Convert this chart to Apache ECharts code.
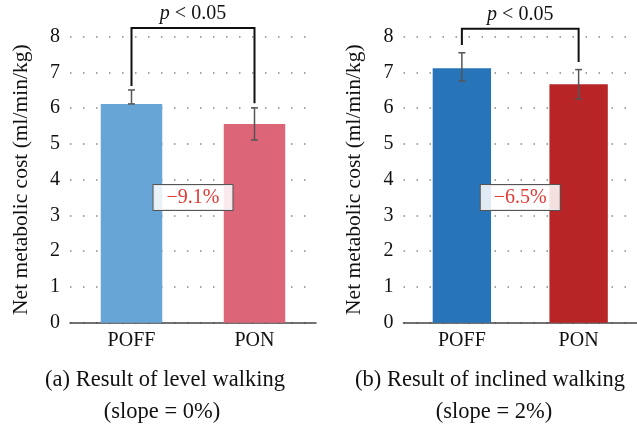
<!DOCTYPE html>
<html><head><meta charset="utf-8">
<script src="https://cdn.jsdelivr.net/npm/echarts@6/dist/echarts.min.js"></script>
<style>html,body{margin:0;padding:0;background:#fff}#c{width:637px;height:426px}</style>
</head><body><div id="c"></div>
<script>
// ---- data ----
const categories = ['POFF', 'PON'];
const yTicks = [0, 1, 2, 3, 4, 5, 6, 7, 8];
const levelValues = [6.12, 5.56];
const levelErrLow = [6.12, 5.11];
const levelErrHigh = [6.51, 6.01];
const inclinedValues = [7.12, 6.67];
const inclinedErrLow = [6.76, 6.26];
const inclinedErrHigh = [7.55, 7.08];
const levelBracket = [8.24, 6.62, 6.14];     // top, left leg end, right leg end
const inclinedBracket = [8.22, 7.77, 7.29];
const levelChange = '\u22129.1%';
const inclinedChange = '\u22126.5%';
const changeLabelY = 3.5;
const captionsA = ['(a) Result of level walking', '(slope = 0%)'];
const captionsB = ['(b) Result of inclined walking', '(slope = 2%)'];
const yTitle = 'Net metabolic cost (ml/min/kg)';

const levelColors = ['#67a5d6', '#dc6577'];
const inclinedColors = ['#2874b8', '#b82527'];
const FONT = '"Liberation Serif", "DejaVu Serif", serif';

const chart = echarts.init(document.getElementById('c'), null, {renderer: 'canvas'});

function xAxisCfg(gi) {
  return {
    type: 'category', gridIndex: gi, data: categories,
    axisTick: {show: false},
    axisLine: {lineStyle: {color: '#444', width: 1.5}},
    axisLabel: {color: '#111', fontFamily: FONT, fontSize: 20, margin: 8}
  };
}
function yAxisCfg(gi) {
  return {
    type: 'value', gridIndex: gi, min: 0, max: 8, interval: 1,
    axisLine: {show: false}, axisTick: {show: false},
    axisLabel: {color: '#111', fontFamily: FONT, fontSize: 20, margin: 10},
    splitLine: {show: true, lineStyle: {color: '#888', width: 1.5, type: [1.5, 11.5]}},
    name: yTitle, nameLocation: 'middle', nameRotate: 90, nameGap: 38,
    nameTextStyle: {color: '#111', fontFamily: FONT, fontSize: 21.5}
  };
}
function barSeries(gi, vals, colors) {
  return {
    type: 'bar', xAxisIndex: gi, yAxisIndex: gi, barWidth: '50%', z: 2,
    data: vals.map((v, i) => ({value: v, itemStyle: {color: colors[i]}})),
    silent: true
  };
}
function errSeries(gi, lo, hi) {
  return {
    type: 'custom', xAxisIndex: gi, yAxisIndex: gi, z: 3, silent: true,
    data: lo.map((l, i) => [i, l, hi[i]]),
    renderItem: function (params, api) {
      const p1 = api.coord([api.value(0), api.value(1)]);
      const p2 = api.coord([api.value(0), api.value(2)]);
      const hw = 3.5;
      const st = {stroke: '#555', lineWidth: 1.5};
      return {type: 'group', children: [
        {type: 'line', shape: {x1: p1[0], y1: p1[1], x2: p2[0], y2: p2[1]}, style: st},
        {type: 'line', shape: {x1: p1[0] - hw, y1: p1[1], x2: p1[0] + hw, y2: p1[1]}, style: st},
        {type: 'line', shape: {x1: p2[0] - hw, y1: p2[1], x2: p2[0] + hw, y2: p2[1]}, style: st}
      ]};
    }
  };
}
function bracketSeries(gi, br, change) {
  return {
    type: 'custom', xAxisIndex: gi, yAxisIndex: gi, z: 4, silent: true,
    clip: false,
    data: [[0, br[0], br[1], br[2], changeLabelY]],
    renderItem: function (params, api) {
      const top = api.value(1);
      const a = api.coord([0, top]);
      const b = api.coord([1, top]);
      const aEnd = api.coord([0, api.value(2)]);
      const bEnd = api.coord([1, api.value(3)]);
      const lab = api.coord([0, api.value(4)]);
      const mx = (a[0] + b[0]) / 2;
      return {type: 'group', children: [
        {type: 'polyline', shape: {points: [[aEnd[0], aEnd[1]], [a[0], a[1]], [b[0], b[1]], [bEnd[0], bEnd[1]]]},
          style: {stroke: '#111', lineWidth: 2, fill: null}},
        {type: 'text', x: mx, y: a[1] - 14,
          style: {text: '{i|p} < 0.05', align: 'center', verticalAlign: 'middle',
            rich: {i: {fontStyle: 'italic', fontFamily: FONT, fontSize: 20, fill: '#111'}},
            font: '20px ' + FONT, fill: '#111'}},
        {type: 'text', x: mx, y: lab[1],
          style: {text: change, align: 'center', verticalAlign: 'middle',
            font: '20px ' + FONT, fill: '#e03a35',
            backgroundColor: 'rgba(255,255,255,0.86)', borderColor: '#555', borderWidth: 1,
            padding: [3, 13, 2, 13]}}
      ]};
    }
  };
}

const capStyle = {fontFamily: FONT, fontSize: 22.5, fontWeight: 'normal', color: '#111'};
chart.setOption({
  animation: false,
  grid: [
    {left: 70, top: 36.7, width: 246, height: 286},
    {left: 403.5, top: 36.7, width: 246, height: 286}
  ],
  xAxis: [xAxisCfg(0), xAxisCfg(1)],
  yAxis: [yAxisCfg(0), yAxisCfg(1)],
  title: [
    {text: captionsA[0], left: 160, top: 364, textAlign: 'center', textStyle: capStyle},
    {text: captionsA[1], left: 157, top: 396, textAlign: 'center', textStyle: capStyle},
    {text: captionsB[0], left: 485, top: 364, textAlign: 'center', textStyle: capStyle},
    {text: captionsB[1], left: 489, top: 396, textAlign: 'center', textStyle: capStyle}
  ],
  series: [
    barSeries(0, levelValues, levelColors),
    errSeries(0, levelErrLow, levelErrHigh),
    bracketSeries(0, levelBracket, levelChange),
    barSeries(1, inclinedValues, inclinedColors),
    errSeries(1, inclinedErrLow, inclinedErrHigh),
    bracketSeries(1, inclinedBracket, inclinedChange)
  ]
});
</script></body></html>
